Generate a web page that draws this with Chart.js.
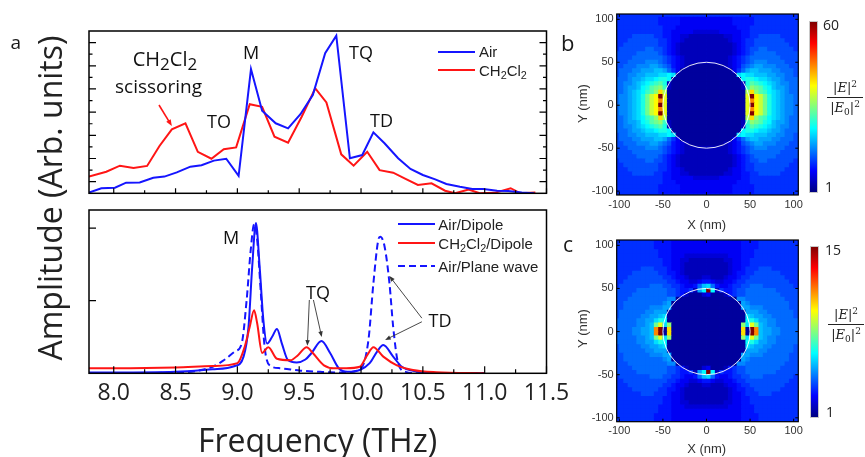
<!DOCTYPE html>
<html>
<head>
<meta charset="utf-8">
<script src="https://cdn.jsdelivr.net/npm/chart.js@4.4.1/dist/chart.umd.min.js"></script>
<style>
html,body{margin:0;padding:0;background:#fff;}
body{position:relative;width:865px;height:457px;overflow:hidden;font-family:'Open Sans',sans-serif;color:#1a1a1a;}
canvas{position:absolute;}
.t{position:absolute;white-space:nowrap;line-height:1;}
.ann{font-size:18px;transform:translateX(-50%);color:#111;}
.ann sub{font-size:0.85em;vertical-align:-0.25em;line-height:0;}
.leg{font-family:'Liberation Sans',Arial,sans-serif;font-size:15px;color:#222;}
.leg sub{font-size:0.72em;vertical-align:-0.3em;line-height:0;}
.ls{position:absolute;height:2px;}
.ax{font-family:'Liberation Sans',Arial,sans-serif;font-size:13px;color:#333;text-align:center;width:60px;}
.cb{position:absolute;width:7px;background:linear-gradient(to top,#000080 0%,#0000ff 12.5%,#00ffff 37.5%,#ffff00 62.5%,#ff0000 87.5%,#800000 100%);border:1px solid #c8c8c8;}
.cbl{font-size:14px;color:#222;}
.frac{position:absolute;font-family:'DejaVu Serif','Liberation Serif',serif;font-size:13px;text-align:center;color:#222;width:36px;line-height:15px;}
.frac .bar{border-top:1px solid #222;margin:2px 0;}
.frac sup{font-size:9px;vertical-align:5px;line-height:0;}
.frac sub{font-size:9px;vertical-align:-3px;line-height:0;}
</style>
</head>
<body>
<canvas id="cTop" width="580" height="200" style="left:0;top:0"></canvas>
<canvas id="cBot" width="580" height="257" style="left:0;top:200px"></canvas>
<canvas id="cMapB" width="305" height="228" style="left:560px;top:0"></canvas>
<canvas id="cMapC" width="305" height="229" style="left:560px;top:228px"></canvas>

<!-- panel letters and axis titles -->
<div class="t" style="left:10.5px;top:33px;font-size:19px">a</div>
<div class="t" style="left:561px;top:30.5px;font-size:22px">b</div>
<div class="t" style="left:563px;top:233.6px;font-size:21px">c</div>
<div class="t" style="left:-149.7px;top:182px;width:400px;text-align:center;font-size:32px;color:#222;transform:rotate(-90deg)">Amplitude (Arb. units)</div>
<div class="t" style="left:117.5px;top:424px;width:400px;text-align:center;font-size:32px;color:#222">Frequency (THz)</div>

<!-- top panel annotations -->
<div class="t ann" style="left:165px;top:49.4px;font-size:20px">CH<sub>2</sub>Cl<sub>2</sub></div>
<div class="t ann" style="left:158.5px;top:77px;font-size:19px">scissoring</div>
<div class="t ann" style="left:251px;top:43px">M</div>
<div class="t ann" style="left:219px;top:112px">TO</div>
<div class="t ann" style="left:361px;top:42.5px">TQ</div>
<div class="t ann" style="left:381.5px;top:110.5px">TD</div>
<!-- top legend -->
<div class="ls" style="left:438px;top:50.7px;width:37px;background:#1515ff"></div>
<div class="t leg" style="left:479px;top:44.4px">Air</div>
<div class="ls" style="left:438px;top:69px;width:37px;background:#ff1515"></div>
<div class="t leg" style="left:479px;top:62.7px">CH<sub>2</sub>Cl<sub>2</sub></div>

<!-- bottom panel annotations -->
<div class="t ann" style="left:231px;top:228px">M</div>
<div class="t ann" style="left:318px;top:283px">TQ</div>
<div class="t ann" style="left:440px;top:310.5px">TD</div>
<!-- bottom legend -->
<div class="ls" style="left:398px;top:223px;width:37px;background:#1515ff"></div>
<div class="t leg" style="left:438.3px;top:216.7px">Air/Dipole</div>
<div class="ls" style="left:398px;top:242.3px;width:37px;background:#ff1515"></div>
<div class="t leg" style="left:438.3px;top:236px">CH<sub>2</sub>Cl<sub>2</sub>/Dipole</div>
<div class="ls" style="left:398px;top:265px;width:37px;background:repeating-linear-gradient(to right,#1515ff 0 7px,transparent 7px 11px)"></div>
<div class="t leg" style="left:438.3px;top:258.7px">Air/Plane wave</div>

<!-- heat map titles, colour bars -->
<div class="t ax" style="left:551.7px;top:96.5px;transform:rotate(-90deg)">Y (nm)</div>
<div class="t ax" style="left:676.7px;top:218px">X (nm)</div>
<div class="t ax" style="left:551.7px;top:321.5px;transform:rotate(-90deg)">Y (nm)</div>
<div class="t ax" style="left:676.7px;top:441.6px">X (nm)</div>

<div class="cb" style="left:809px;top:21px;height:170px"></div>
<div class="t cbl" style="left:823px;top:17.6px">60</div>
<div class="t cbl" style="left:825px;top:180.3px">1</div>
<div class="frac" style="left:827px;top:80px"><div>|<i>E</i>|<sup>2</sup></div><div class="bar"></div><div>|<i>E</i><sub>0</sub>|<sup>2</sup></div></div>

<div class="cb" style="left:810px;top:246px;height:170px"></div>
<div class="t cbl" style="left:825px;top:242.6px">15</div>
<div class="t cbl" style="left:826px;top:405.3px">1</div>
<div class="frac" style="left:828px;top:307px"><div>|<i>E</i>|<sup>2</sup></div><div class="bar"></div><div>|<i>E</i><sub>0</sub>|<sup>2</sup></div></div>

<script>
// ================= DATA =================
// (a) top: measured amplitude spectra (arb. units)
const airFreq = [7.80,7.90,8.01,8.10,8.21,8.32,8.41,8.51,8.62,8.71,8.81,8.91,9.01,9.11,9.20,9.31,9.41,9.51,9.61,9.71,9.80,9.91,10.01,10.10,10.19,10.30,10.40,10.50,10.60,10.69,10.80,10.90,10.99,11.10,11.19,11.30,11.40];
const airAmp  = [0.03,0.22,0.24,0.46,0.47,0.67,0.72,0.90,1.15,1.21,1.41,1.49,0.75,5.36,3.56,3.02,2.80,3.41,4.24,6.04,6.80,1.51,1.65,2.63,2.16,1.51,1.05,0.79,0.60,0.40,0.28,0.19,0.19,0.11,0.10,0.03,0.00];
const dcmFreq = [7.80,7.94,8.05,8.16,8.27,8.37,8.47,8.58,8.68,8.79,8.89,8.99,9.10,9.20,9.30,9.41,9.52,9.63,9.72,9.84,9.94,10.05,10.15,10.26,10.36,10.46,10.57,10.68,10.76,10.87,10.96,11.08,11.21,11.29,11.41];
const dcmAmp  = [0.72,0.93,1.19,1.09,1.18,2.04,2.76,3.02,1.79,1.49,1.90,1.98,3.84,3.73,2.44,2.18,3.30,4.53,3.92,1.68,1.19,1.79,1.00,0.89,0.62,0.36,0.43,0.11,0.00,0.16,0.00,0.02,0.22,0.00,0.03];

// (a) bottom: simulated spectra
const airDipFreq = [7.80,8.00,8.50,8.80,8.98,9.05,9.09,9.12,9.15,9.18,9.21,9.24,9.28,9.32,9.36,9.41,9.48,9.55,9.60,9.68,9.75,9.82,9.89,9.99,10.07,10.13,10.18,10.26,10.33,10.42,10.61,11.00];
const airDipAmp  = [0.01,0.01,0.02,0.055,0.10,0.23,0.64,1.47,2.07,1.47,0.735,0.41,0.50,0.61,0.41,0.18,0.15,0.19,0.28,0.445,0.28,0.07,0.02,0.045,0.14,0.30,0.39,0.23,0.09,0.036,0.0,0.0];
const dcmDipFreq = [7.80,8.00,8.50,8.80,9.00,9.06,9.10,9.135,9.16,9.20,9.25,9.32,9.43,9.49,9.56,9.61,9.70,9.78,9.88,9.99,10.05,10.10,10.18,10.29,10.42,10.61,11.00];
const dcmDipAmp  = [0.07,0.07,0.08,0.10,0.14,0.37,0.64,0.87,0.69,0.28,0.36,0.20,0.18,0.25,0.36,0.28,0.11,0.07,0.07,0.09,0.25,0.36,0.23,0.11,0.045,0.014,0.0];
const airPwFreq  = [7.80,8.50,8.80,8.89,8.98,9.035,9.075,9.108,9.135,9.16,9.19,9.22,9.26,9.345,9.51,9.67,9.85,10.00,10.06,10.10,10.14,10.155,10.19,10.23,10.26,10.30,10.36,10.50,11.00];
const airPwAmp   = [0.0,0.01,0.09,0.18,0.30,0.41,1.01,1.70,2.05,1.84,1.10,0.37,0.11,0.07,0.036,0.02,0.01,0.07,0.46,1.24,1.84,1.88,1.75,1.24,0.64,0.14,0.02,0.0,0.0];

// tick values
const freqTicks = [8.0,8.5,9.0,9.5,10.0,10.5,11.0,11.5];
const freqMinor = [8.25,8.75,9.25,9.75,10.25,10.75,11.25];
const topYTicks = [0.5,1.5,2.5,3.5,4.5,5.5,6.5];
const topYMinor = [1,2,3,4,5,6];
const botYTicks = [1,2];
const mapTicks  = [-100,-50,0,50,100];

// (b),(c) field maps |E|^2/|E0|^2 : colour level per 5 nm cell, '0' (=1) ... 'z' (=max), base 36
const mapXCentres = [-102.5,-97.5,-92.5,-87.5,-82.5,-77.5,-72.5,-67.5,-62.5,-57.5,-52.5,-47.5,-42.5,-37.5,-32.5,-27.5,-22.5,-17.5,-12.5,-7.5,-2.5,2.5,7.5,12.5,17.5,22.5,27.5,32.5,37.5,42.5,47.5,52.5,57.5,62.5,67.5,72.5,77.5,82.5,87.5,92.5,97.5,102.5];
const mapBYCentres = [100,95,90,85,80,75,70,65,60,55,50,45,40,35,30,25,20,15,10,5,0,-5,-10,-15,-20,-25,-30,-35,-40,-45,-50,-55,-60,-65,-70,-75,-80,-85,-90,-95,-100];
const mapCYCentres = [102.5,97.5,92.5,87.5,82.5,77.5,72.5,67.5,62.5,57.5,52.5,47.5,42.5,37.5,32.5,27.5,22.5,17.5,12.5,7.5,2.5,-2.5,-7.5,-12.5,-17.5,-22.5,-27.5,-32.5,-37.5,-42.5,-47.5,-52.5,-57.5,-62.5,-67.5,-72.5,-77.5,-82.5,-87.5,-92.5,-97.5,-102.5];
const mapBRows = [
 "666666666655555444444"+"444444555556666666666",
 "666666666655555444444"+"444444555556666666666",
 "666666666665554444444"+"444444455566666666666",
 "666666666665544444333"+"333444445566666666666",
 "666677777665544332222"+"222233445566777776666",
 "666777777766544322222"+"222223445667777777666",
 "667777777766543222222"+"222222345667777777766",
 "677777788776543222222"+"222222345677887777776",
 "777778888876543222222"+"222222345678888877777",
 "777788888887654322222"+"222223456788888887777",
 "777888899987654322222"+"222223456789998888777",
 "77888999aa98754321111"+"11112345789aa99988877",
 "788899aaabba864111111"+"111111468abbaaa998887",
 "78899aabbbccdc1111111"+"1111111cdccbbbaa99887",
 "8889aabccdeed11111111"+"11111111deedccbaa9888",
 "8899abcdefge211111111"+"111111112egfedcba9988",
 "889aabdeghif211111111"+"111111112fihgedbaa988",
 "889abcdfginj111111111"+"111111111jnigfdcba988",
 "899abcehkmzl111111111"+"111111111lzmkhecba998",
 "899abcehkmql111111111"+"111111111lqmkhecba998",
 "899abcehkmzl111111111"+"111111111lzmkhecba998",
 "899abcehkmql111111111"+"111111111lqmkhecba998",
 "899abcehkmzl111111111"+"111111111lzmkhecba998",
 "889abcdfginj111111111"+"111111111jnigfdcba988",
 "889aabdeghif211111111"+"111111112fihgedbaa988",
 "8899abcdefge211111111"+"111111112egfedcba9988",
 "8889aabccdeed11111111"+"11111111deedccbaa9888",
 "78899aabbbccdc1111111"+"1111111cdccbbbaa99887",
 "788899aaabba864111111"+"111111468abbaaa998887",
 "77888999aa98754321111"+"11112345789aa99988877",
 "777888899987654322222"+"222223456789998888777",
 "777788888887654322222"+"222223456788888887777",
 "777778888876543222222"+"222222345678888877777",
 "677777788776543222222"+"222222345677887777776",
 "667777777766543222222"+"222222345667777777766",
 "666777777766544322222"+"222223445667777777666",
 "666677777665544332222"+"222233445566777776666",
 "666666666665544444333"+"333444445566666666666",
 "666666666665554444444"+"444444455566666666666",
 "666666666655555444444"+"444444555556666666666",
 "666666666655555444444"+"444444555556666666666"
];
const mapCRows = [
 "666666666555544444444"+"444444445555666666666",
 "666666666555544444444"+"444444445555666666666",
 "666666666655544444444"+"444444445556666666666",
 "666666666655544433333"+"333334445556666666666",
 "666666666665544332222"+"222233445566666666666",
 "666666666665544322222"+"222223445566666666666",
 "666666777666544322222"+"222223445666777666666",
 "666677777766554322222"+"222223455667777776666",
 "666777777776654432223"+"322234456677777777666",
 "667777777777665443345"+"543344566777777777766",
 "67777777888776654458b"+"c85445667788877777776",
 "7777788888887765562ad"+"zd2655677888888877777",
 "777788888888776521113"+"411125677888888887777",
 "777888888888991111111"+"111111199888888888777",
 "778888888889a11111111"+"11111111a988888888877",
 "77888888999aa11111111"+"11111111aa99988888877",
 "788888899aaa111111111"+"111111111aaa998888887",
 "78888899aabc111111111"+"111111111cbaa99888887",
 "8888899aaced111111111"+"111111111decaa9988888",
 "8888899abhlci11111111"+"11111111iclhba9988888",
 "888899aabqz1n11111111"+"11111111n1zqbaa998888",
 "888899aabqz1n11111111"+"11111111n1zqbaa998888",
 "8888899abhlci11111111"+"11111111iclhba9988888",
 "8888899aaced111111111"+"111111111decaa9988888",
 "78888899aabc111111111"+"111111111cbaa99888887",
 "788888899aaa111111111"+"111111111aaa998888887",
 "77888888999aa11111111"+"11111111aa99988888877",
 "778888888889a11111111"+"11111111a988888888877",
 "777888888888991111111"+"111111199888888888777",
 "777788888888776521113"+"411125677888888887777",
 "7777788888887765562ad"+"zd2655677888888877777",
 "67777777888776654458b"+"c85445667788877777776",
 "667777777777665443345"+"543344566777777777766",
 "666777777776654432223"+"322234456677777777666",
 "666677777766554322222"+"222223455667777776666",
 "666666777666544322222"+"222223445666777666666",
 "666666666665544322222"+"222223445566666666666",
 "666666666665544332222"+"222233445566666666666",
 "666666666655544433333"+"333334445556666666666",
 "666666666655544444444"+"444444445556666666666",
 "666666666555544444444"+"444444445555666666666",
 "666666666555544444444"+"444444445555666666666"
];
const mapBMax = 60, mapCMax = 15, mapMin = 1;
const particleRadius = 50;

// ================= STYLE / HELPERS =================
const BLUE = '#1515ff', RED = '#ff1515';
const pts = (xs, ys) => xs.map((x, i) => ({x, y: ys[i]}));
const jet = t => {
  const c = u => Math.round(255 * Math.max(0, Math.min(1, u)));
  return `rgb(${c(1.5 - Math.abs(4*t - 3))},${c(1.5 - Math.abs(4*t - 2))},${c(1.5 - Math.abs(4*t - 1))})`;
};

function framePlugin(id, cfg) {
  return {
    id,
    beforeDatasetsDraw(chart) {
      if (!cfg.fill) return;
      const a = chart.chartArea, ctx = chart.ctx;
      ctx.save(); ctx.fillStyle = cfg.fill;
      ctx.fillRect(a.left, a.top, a.right - a.left, a.bottom - a.top);
      ctx.restore();
    },
    afterDatasetsDraw(chart) {
      const {ctx, chartArea: a, scales: {x, y}} = chart;
      ctx.save();
      if (cfg.circle) {
        ctx.beginPath();
        ctx.ellipse(x.getPixelForValue(0), y.getPixelForValue(0),
          Math.abs(x.getPixelForValue(cfg.circle) - x.getPixelForValue(0)),
          Math.abs(y.getPixelForValue(cfg.circle) - y.getPixelForValue(0)), 0, 0, Math.PI * 2);
        ctx.strokeStyle = 'rgba(255,255,255,0.9)'; ctx.lineWidth = 1; ctx.stroke();
      }
      ctx.strokeStyle = cfg.color || '#000'; ctx.lineWidth = cfg.width || 1.5;
      ctx.strokeRect(a.left, a.top, a.right - a.left, a.bottom - a.top);
      ctx.lineWidth = cfg.tickWidth || 1.2;
      ctx.beginPath();
      for (const s of cfg.ticks) {
        const sc = s.axis === 'x' ? x : y;
        for (const v of s.values) {
          const p = sc.getPixelForValue(v);
          for (const side of s.sides) {
            if (side === 'bottom') { ctx.moveTo(p, a.bottom); ctx.lineTo(p, a.bottom - s.len); }
            if (side === 'top')    { ctx.moveTo(p, a.top);    ctx.lineTo(p, a.top + s.len); }
            if (side === 'left')   { ctx.moveTo(a.left, p);   ctx.lineTo(a.left + s.len, p); }
            if (side === 'right')  { ctx.moveTo(a.right, p);  ctx.lineTo(a.right - s.len, p); }
          }
        }
      }
      ctx.stroke();
      for (const ar of (cfg.arrows || [])) {
        const x0 = x.getPixelForValue(ar.from[0]), y0 = y.getPixelForValue(ar.from[1]);
        const x1 = x.getPixelForValue(ar.to[0]),   y1 = y.getPixelForValue(ar.to[1]);
        const ang = Math.atan2(y1 - y0, x1 - x0), h = ar.head;
        ctx.strokeStyle = ar.color; ctx.fillStyle = ar.color; ctx.lineWidth = ar.width;
        ctx.beginPath(); ctx.moveTo(x0, y0);
        ctx.lineTo(x1 - Math.cos(ang) * h * 0.7, y1 - Math.sin(ang) * h * 0.7); ctx.stroke();
        ctx.beginPath(); ctx.moveTo(x1, y1);
        ctx.lineTo(x1 - h * Math.cos(ang - 0.38), y1 - h * Math.sin(ang - 0.38));
        ctx.lineTo(x1 - h * Math.cos(ang + 0.38), y1 - h * Math.sin(ang + 0.38));
        ctx.closePath(); ctx.fill();
      }
      ctx.restore();
    }
  };
}

const baseOpts = {responsive: false, animation: false, events: [],
  plugins: {legend: {display: false}, tooltip: {enabled: false}}};

// ================= TOP PANEL =================
new Chart(document.getElementById('cTop'), {
  type: 'line',
  data: {datasets: [
    {label: 'Air', data: pts(airFreq, airAmp), borderColor: BLUE, borderWidth: 2, pointRadius: 0, tension: 0, fill: false},
    {label: 'CH2Cl2', data: pts(dcmFreq, dcmAmp), borderColor: RED, borderWidth: 2, pointRadius: 0, tension: 0, fill: false}
  ]},
  options: Object.assign({}, baseOpts, {
    layout: {padding: {left: 89, top: 31, right: 33.5, bottom: 6.7}},
    scales: {
      x: {type: 'linear', min: 7.8, max: 11.5, display: false},
      y: {type: 'linear', min: 0, max: 7, display: false}
    }
  }),
  plugins: [framePlugin('frameTop', {
    ticks: [
      {axis: 'x', values: freqTicks, len: 5, sides: ['bottom']},
      {axis: 'x', values: freqMinor, len: 3, sides: ['bottom']},
      {axis: 'y', values: topYTicks, len: 7, sides: ['left', 'right']},
      {axis: 'y', values: topYMinor, len: 3.5, sides: ['left', 'right']}
    ],
    arrows: [{from: [8.366, 3.81], to: [8.47, 2.90], color: RED, width: 1.6, head: 7}]
  })]
});

// ================= BOTTOM PANEL =================
new Chart(document.getElementById('cBot'), {
  type: 'line',
  data: {datasets: [
    {label: 'CH2Cl2/Dipole', data: pts(dcmDipFreq, dcmDipAmp), borderColor: RED, borderWidth: 2, pointRadius: 0, cubicInterpolationMode: 'monotone', fill: false},
    {label: 'Air/Dipole', data: pts(airDipFreq, airDipAmp), borderColor: BLUE, borderWidth: 2, pointRadius: 0, cubicInterpolationMode: 'monotone', fill: false},
    {label: 'Air/Plane wave', data: pts(airPwFreq, airPwAmp), borderColor: BLUE, borderWidth: 2, borderDash: [7, 4], pointRadius: 0, cubicInterpolationMode: 'monotone', fill: false}
  ]},
  options: Object.assign({}, baseOpts, {
    layout: {padding: {left: 89, top: 10, right: 33.5, bottom: 0}},
    scales: {
      x: {type: 'linear', min: 7.8, max: 11.5,
          afterBuildTicks: s => { s.ticks = freqTicks.map(v => ({value: v})); },
          afterFit: s => { s.height = 83.7; },
          grid: {display: false, drawTicks: false}, border: {display: false},
          ticks: {font: {family: 'Open Sans', size: 23}, color: '#222', padding: 6, maxRotation: 0, autoSkip: false,
                  callback: v => Number(v).toFixed(1)}},
      y: {type: 'linear', min: 0, max: 2.25, display: false}
    }
  }),
  plugins: [framePlugin('frameBot', {
    ticks: [
      {axis: 'x', values: freqTicks, len: 7, sides: ['bottom']},
      {axis: 'x', values: freqMinor, len: 4, sides: ['bottom']},
      {axis: 'y', values: botYTicks, len: 7, sides: ['left']}
    ],
    arrows: [
      {from: [9.582, 1.01], to: [9.566, 0.38], color: '#333', width: 0.9, head: 6},
      {from: [9.615, 1.01], to: [9.682, 0.50], color: '#333', width: 0.9, head: 6},
      {from: [10.492, 0.76], to: [10.23, 1.34], color: '#333', width: 0.9, head: 6},
      {from: [10.492, 0.71], to: [10.195, 0.46], color: '#333', width: 0.9, head: 6}
    ]
  })]
});

// ================= FIELD MAPS =================
function fieldMap(id, rows, yCentres, maxVal, pad, xAxisH) {
  const cells = [];
  rows.forEach((row, j) => {
    for (let i = 0; i < row.length; i++) {
      const lvl = parseInt(row[i], 36) / 35;
      cells.push({x: mapXCentres[i], y: yCentres[j], v: mapMin + lvl * (maxVal - mapMin)});
    }
  });
  const tickFont = {family: "'Liberation Sans Narrow','Liberation Sans',Arial", size: 11};
  new Chart(document.getElementById(id), {
    type: 'scatter',
    data: {datasets: [{
      data: cells, pointStyle: 'rect', borderWidth: 0,
      backgroundColor: c => jet((c.raw.v - mapMin) / (maxVal - mapMin)),
      pointRadius: c => {
        const s = c.chart.scales;
        const w = Math.abs(s.x.getPixelForValue(5) - s.x.getPixelForValue(0));
        const h = Math.abs(s.y.getPixelForValue(5) - s.y.getPixelForValue(0));
        return (Math.max(w, h) / 2 + 0.35) / Math.SQRT1_2;
      }
    }]},
    options: Object.assign({}, baseOpts, {
      layout: {padding: pad},
      scales: {
        x: {type: 'linear', min: -103, max: 105.3,
            afterBuildTicks: s => { s.ticks = mapTicks.map(v => ({value: v})); },
            afterFit: s => { s.height = xAxisH; },
            grid: {display: false, drawTicks: false}, border: {display: false},
            ticks: {font: tickFont, color: '#333', padding: 3, maxRotation: 0, autoSkip: false}},
        y: {type: 'linear', min: -104.5, max: 106.2,
            afterBuildTicks: s => { s.ticks = mapTicks.map(v => ({value: v})); },
            afterFit: s => { s.width = 56.7; },
            grid: {display: false, drawTicks: false}, border: {display: false},
            ticks: {font: tickFont, color: '#333', padding: 3, autoSkip: false}}
      }
    }),
    plugins: [framePlugin('frame' + id, {
      fill: jet(6 / 35), circle: particleRadius, width: 1.2, tickWidth: 1,
      ticks: [
        {axis: 'x', values: mapTicks, len: 3, sides: ['bottom', 'top']},
        {axis: 'y', values: mapTicks, len: 3, sides: ['left', 'right']}
      ]
    })]
  });
}
fieldMap('cMapB', mapBRows, mapBYCentres, mapBMax, {left: 0, top: 14, right: 66.7, bottom: 0}, 33);
fieldMap('cMapC', mapCRows, mapCYCentres, mapCMax, {left: 0, top: 12, right: 66.7, bottom: 0}, 35.3);
</script>
</body>
</html>
